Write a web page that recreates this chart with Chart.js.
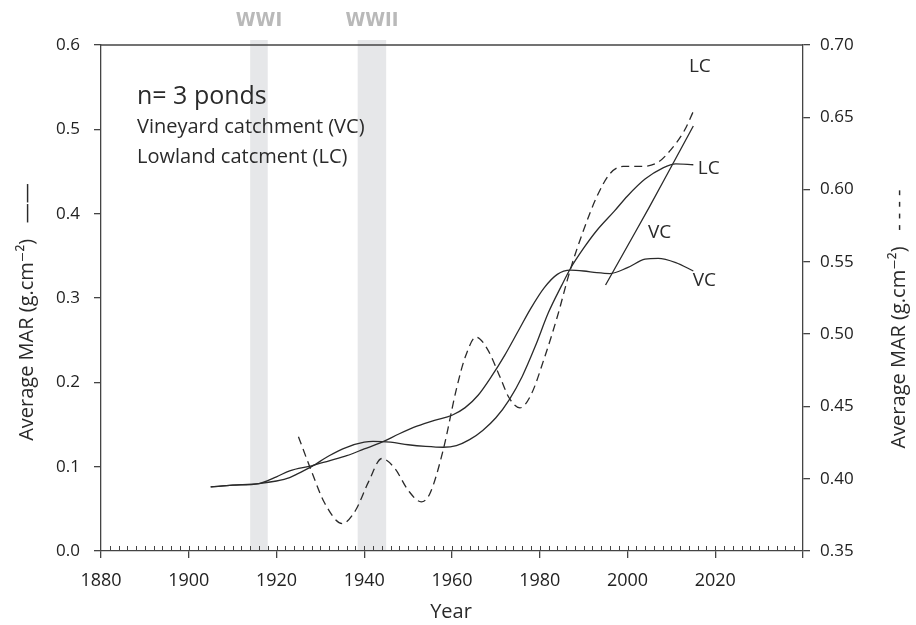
<!DOCTYPE html>
<html>
<head>
<meta charset="utf-8">
<script src="https://cdn.jsdelivr.net/npm/chart.js@4.4.1/dist/chart.umd.min.js"></script>
<style>
  html, body { margin: 0; padding: 0; background: #fff; }
</style>
</head>
<body>
<canvas id="chart" width="916" height="625"></canvas>
<script>
// solid curves, left axis
const lcYears = [1905, 1910, 1916, 1920, 1923, 1925, 1928, 1932, 1936, 1940, 1942, 1946, 1950, 1954, 1958, 1961, 1964, 1967, 1970, 1973, 1976, 1979, 1982, 1985, 1987, 1990, 1993, 1997, 2000, 2004, 2008, 2011, 2015];
const lcValues = [0.076, 0.078, 0.080, 0.083, 0.087, 0.092, 0.100, 0.113, 0.123, 0.129, 0.130, 0.129, 0.126, 0.124, 0.123, 0.125, 0.132, 0.143, 0.158, 0.179, 0.207, 0.243, 0.283, 0.315, 0.335, 0.359, 0.380, 0.403, 0.421, 0.441, 0.454, 0.459, 0.458];

const vcYears = [1905, 1910, 1916, 1920, 1923, 1928, 1932, 1936, 1940, 1944, 1948, 1952, 1956, 1960, 1963, 1966, 1969, 1972, 1975, 1978, 1981, 1984, 1987, 1990, 1993, 1996, 2000, 2004, 2007, 2011, 2015];
const vcValues = [0.076, 0.078, 0.080, 0.088, 0.095, 0.101, 0.107, 0.113, 0.121, 0.129, 0.139, 0.148, 0.155, 0.161, 0.170, 0.185, 0.207, 0.232, 0.260, 0.288, 0.312, 0.328, 0.333, 0.332, 0.330, 0.329, 0.336, 0.346, 0.347, 0.342, 0.332];

// right axis curves
const lcRightYears = [1925, 1928, 1931, 1935, 1938, 1941, 1944, 1947, 1950, 1953, 1955, 1958, 1961, 1963, 1965.5, 1968, 1971, 1973, 1975.5, 1978, 1981, 1984, 1987, 1990, 1993, 1996, 1999, 2003, 2007, 2010, 2013, 2015];
const lcRightValues = [0.429, 0.405, 0.383, 0.369, 0.378, 0.398, 0.414, 0.407, 0.392, 0.384, 0.390, 0.420, 0.462, 0.484, 0.498, 0.490, 0.470, 0.456, 0.449, 0.458, 0.483, 0.512, 0.545, 0.572, 0.595, 0.611, 0.616, 0.616, 0.619, 0.628, 0.641, 0.654];

const vcRightYears = [1995, 2000, 2005, 2010, 2015];
const vcRightValues = [0.534, 0.561, 0.588, 0.616, 0.644];

const xTicks = [1880, 1900, 1920, 1940, 1960, 1980, 2000, 2020];

const wars = ["WWI", "WWII"];
const warStarts = [1914, 1938.5];
const warEnds = [1918, 1945];

// curve labels: text, year, value, axis
const curveLabels = [
    ["LC", 2016.5, 0.685, "y1"],
    ["LC", 2018.5, 0.454, "y"],
    ["VC", 2007.3, 0.570, "y1"],
    ["VC", 2017.5, 0.321, "y"]
];

const FONT = "'Open Sans', 'DejaVu Sans', sans-serif";
const INK = "#2a2a2a";

function pts(xs, ys) {
    return xs.map((x, i) => ({ x, y: ys[i] }));
}

const decor = {
    id: "decor",
    beforeDraw(chart) {
        const { ctx, chartArea: a, scales: { x } } = chart;
        ctx.save();
        ctx.textAlign = "center";
        ctx.textBaseline = "middle";
        warStarts.forEach((s, i) => {
            const x0 = x.getPixelForValue(s);
            const x1 = x.getPixelForValue(warEnds[i]);
            ctx.fillStyle = "#e6e7e9";
            ctx.fillRect(x0, a.top - 5, x1 - x0, a.bottom - a.top + 5);
            ctx.fillStyle = "#b9b9b9";
            ctx.font = "bold 20px 'Liberation Sans Narrow', 'DejaVu Sans Condensed', sans-serif";
            ctx.fillText(wars[i], (x0 + x1) / 2, 21);
        });
        ctx.restore();
    },
    afterDraw(chart) {
        const { ctx, chartArea: a, scales } = chart;
        const x = scales.x;
        ctx.save();
        ctx.strokeStyle = "#444";
        ctx.lineWidth = 1.3;
        // top frame line
        ctx.beginPath();
        ctx.moveTo(a.left, a.top);
        ctx.lineTo(a.right, a.top);
        ctx.stroke();
        // minor ticks every 2 years pointing up
        ctx.lineWidth = 1;
        ctx.beginPath();
        for (let yr = 1882; yr < 2040; yr += 2) {
            const px = Math.round(x.getPixelForValue(yr)) + 0.5;
            ctx.moveTo(px, a.bottom);
            ctx.lineTo(px, a.bottom - 5);
        }
        ctx.stroke();

        // curve labels
        ctx.fillStyle = INK;
        ctx.font = "19px " + FONT;
        ctx.textAlign = "center";
        ctx.textBaseline = "middle";
        curveLabels.forEach(([t, yr, v, ax]) => {
            ctx.fillText(t, x.getPixelForValue(yr), scales[ax].getPixelForValue(v));
        });

        // text block
        ctx.textAlign = "left";
        ctx.textBaseline = "alphabetic";
        ctx.font = "25px " + FONT;
        ctx.fillText("n= 3 ponds", 137, 104);
        ctx.font = "20px " + FONT;
        ctx.fillText("Vineyard catchment (VC)", 137, 133);
        ctx.fillText("Lowland catcment (LC)", 137, 163);

        // axis titles
        ctx.font = "20px " + FONT;
        ctx.textAlign = "center";
        ctx.textBaseline = "middle";
        ctx.save();
        ctx.translate(27, 312);
        ctx.rotate(-Math.PI / 2);
        ctx.fillText("Average MAR (g.cm\u207B\u00B2)   \u2014\u2014", 0, 0);
        ctx.restore();
        ctx.save();
        ctx.translate(899, 319);
        ctx.rotate(-Math.PI / 2);
        ctx.fillText("Average MAR (g.cm\u207B\u00B2)   - - - -", 0, 0);
        ctx.restore();
        ctx.fillText("Year", (a.left + a.right) / 2 - 1, 612);
        ctx.restore();
    }
};

const lineStyle = {
    borderColor: INK,
    borderWidth: 1.3,
    pointRadius: 0,
    fill: false,
    cubicInterpolationMode: "monotone"
};

new Chart(document.getElementById("chart"), {
    type: "line",
    data: {
        datasets: [
            { ...lineStyle, label: "LC", data: pts(lcYears, lcValues), yAxisID: "y" },
            { ...lineStyle, label: "VC", data: pts(vcYears, vcValues), yAxisID: "y" },
            { ...lineStyle, label: "LC right", data: pts(lcRightYears, lcRightValues), yAxisID: "y1", borderDash: [8, 5] },
            { ...lineStyle, label: "VC right", data: pts(vcRightYears, vcRightValues), yAxisID: "y1" }
        ]
    },
    options: {
        responsive: false,
        animation: false,
        devicePixelRatio: 1,
        layout: { padding: { top: 45, left: 0, right: 0, bottom: 0 } },
        plugins: { legend: { display: false }, tooltip: { enabled: false } },
        scales: {
            x: {
                type: "linear",
                min: 1880,
                max: 2040,
                afterBuildTicks: s => { s.ticks = xTicks.concat([2040]).map(v => ({ value: v })); },
                afterFit: s => { s.height = 74; },
                ticks: {
                    color: "#222",
                    padding: 12,
                    maxRotation: 0,
                    font: { family: FONT, size: 18 },
                    callback: v => (v < 2040 ? String(v) : "")
                },
                grid: { drawOnChartArea: false, tickLength: 7, color: "#444", lineWidth: 1.3 },
                border: { color: "#444", width: 1.3 }
            },
            y: {
                position: "left",
                min: 0,
                max: 0.6,
                afterFit: s => { s.width = 101; },
                ticks: {
                    stepSize: 0.1,
                    color: "#222",
                    padding: 14,
                    font: { family: FONT, size: 17 },
                    callback: v => v.toFixed(1)
                },
                grid: { drawOnChartArea: false, tickLength: 7, color: "#444", lineWidth: 1.3 },
                border: { color: "#444", width: 1.3 }
            },
            y1: {
                position: "right",
                min: 0.35,
                max: 0.70,
                afterFit: s => { s.width = 113; },
                ticks: {
                    stepSize: 0.05,
                    color: "#222",
                    padding: 10,
                    font: { family: FONT, size: 17 },
                    callback: v => v.toFixed(2)
                },
                grid: { drawOnChartArea: false, tickLength: 7, color: "#444", lineWidth: 1.3 },
                border: { color: "#444", width: 1.3 }
            }
        }
    },
    plugins: [decor]
});
</script>
</body>
</html>
